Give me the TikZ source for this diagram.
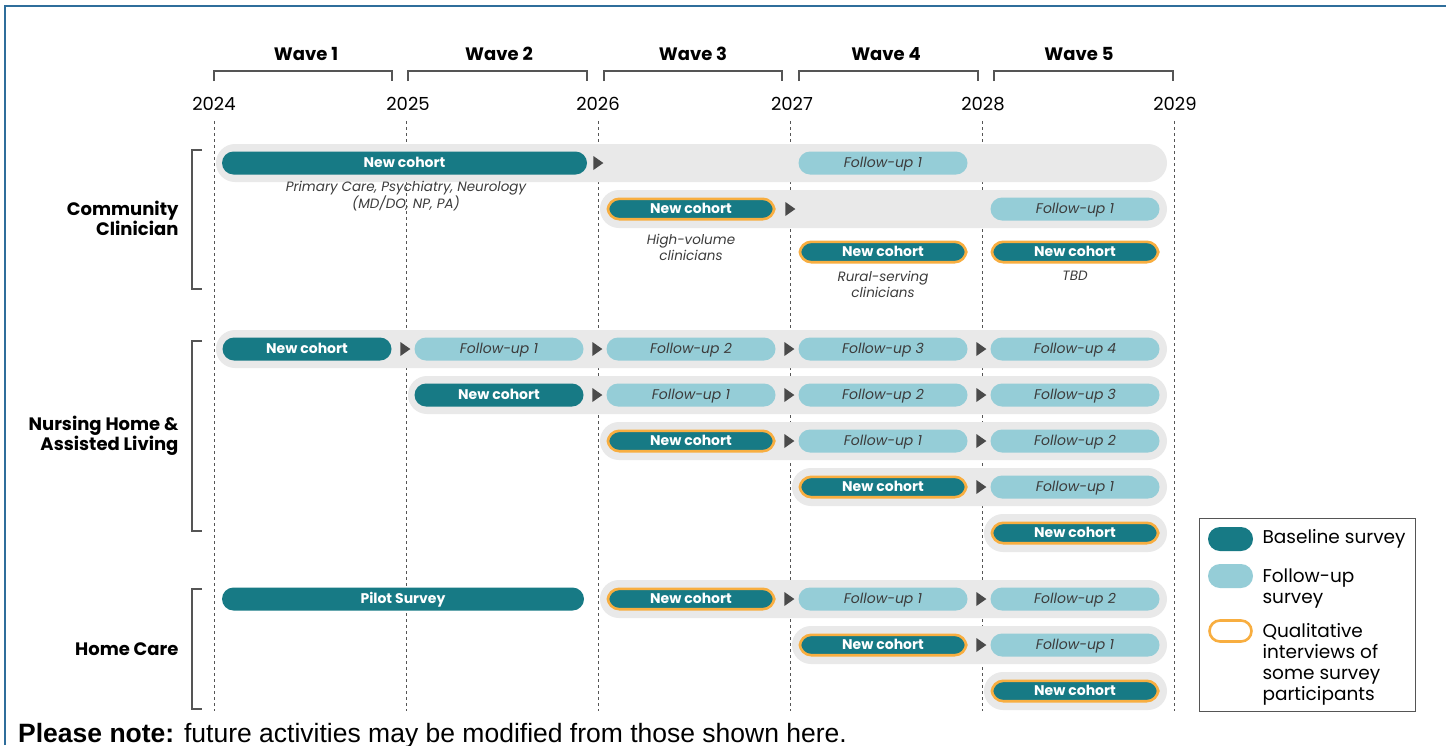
\documentclass[tikz,border=0pt]{standalone}
\usepackage{fontspec}
\setmainfont{Poppins}
\newfontfamily\notefont{Liberation Sans}
\usetikzlibrary{shapes.geometric}
\definecolor{teal}{HTML}{177A85}
\definecolor{lightteal}{HTML}{95CDD7}
\definecolor{qorange}{HTML}{F8AE40}
\definecolor{bandgrey}{HTML}{E9E9E9}
\definecolor{arrgrey}{HTML}{4A4A4A}
\definecolor{frameblue}{HTML}{2F6E9B}
\definecolor{futext}{HTML}{3C3C3C}
\definecolor{linegrey}{HTML}{555555}
\tikzset{
  pillbase/.style={rectangle, rounded corners=11.5pt, minimum height=23pt, inner sep=0pt, text height=10.5pt, text depth=1.5pt},
  basepill/.style={pillbase, fill=teal, text=white, font=\fontsize{14}{16}\selectfont\bfseries},
  qualpill/.style={pillbase, fill=teal, draw=qorange, line width=2.6pt, minimum height=20.4pt, text=white, font=\fontsize{14}{16}\selectfont\bfseries},
  fupill/.style={pillbase, fill=lightteal, text=futext, font=\fontsize{14}{16}\selectfont\itshape},
  band/.style={fill=bandgrey, rounded corners=19pt},
  tri/.style={isosceles triangle, isosceles triangle apex angle=70, fill=arrgrey, minimum height=10pt, inner sep=0pt},
  yearlbl/.style={font=\fontsize{18}{20}\selectfont},
  wavelbl/.style={font=\fontsize{18}{20}\selectfont\bfseries},
  grouplbl/.style={font=\fontsize{18}{20}\selectfont\bfseries, align=right, anchor=east},
  notelbl/.style={font=\fontsize{13.5}{16}\selectfont\itshape, text=futext, align=center},
  grid/.style={dashed, dash pattern=on 3pt off 3pt, linegrey, line width=0.8pt},
  bracket/.style={linegrey, line width=1.2pt},
  legtext/.style={font=\fontsize{18.5}{21}\selectfont, anchor=west, align=left}
}
\newcommand\yrpill[5]{\node[#2, minimum width=169pt] (#1) at ({307+192*#3},#4) {#5};}
\newcommand\yrqual[3]{\node[qualpill, minimum width=166.4pt] (#1) at ({307+192*#2},#3) {New cohort};}
\newcommand\trimark[3]{\node[tri] (#1) at ({404+192*#2},#3) {};}
\newcommand\bandrow[2]{\fill[band] ({#1},{#2-19}) rectangle (1167,{#2+19});}
\begin{document}
\begin{tikzpicture}[x=1pt,y=-1pt]
\useasboundingbox (0,0) rectangle (1446,745);
\fill[white] (0,0) rectangle (1446,745);
% frame
\draw[frameblue, line width=2.2pt] (5,745) -- (5,6) -- (1446,6);

% wave labels and brackets
\foreach \cx/\a/\b/\n in {306/214/392/1, 499/408/587/2, 693/604/782/3, 886/799/978/4, 1079/994/1173/5}{
  \node[wavelbl] (wave\n) at (\cx,54) {Wave \n};
  \draw[bracket] (\a,81) -- (\a,71) -- (\b,71) -- (\b,81);
}
% years and grid lines
\foreach \lx/\gx/\yr in {214/214/2024, 408/406/2025, 598/598/2026, 792/790/2027, 983/982/2028, 1175/1174/2029}{
  \node[yearlbl] (yr\yr) at (\lx,104) {\yr};
  \draw[grid] (\gx,121) -- (\gx,711);
}

% group brackets
\draw[bracket] (202,150) -- (192,150) -- (192,289) -- (202,289);
\draw[bracket] (202,341) -- (192,341) -- (192,531) -- (202,531);
\draw[bracket] (202,589) -- (192,589) -- (192,709) -- (202,709);
\node[grouplbl] (gcc) at (182,218) {Community\\Clinician};
\node[grouplbl] (gnh) at (182,436) {Nursing Home \&\\Assisted Living};
\node[grouplbl] (ghc) at (182,649) {Home Care};

% ---- Community Clinician
\bandrow{216}{163}
\node[basepill, minimum width=365pt] (cc1nc) at (404.5,163) {New cohort};
\node[tri] (cc1a) at (597,163) {};
\yrpill{cc1f1}{fupill}{3}{163}{Follow-up 1}
\node[notelbl] (cc1note) at (406,196) {Primary Care, Psychiatry, Neurology\\(MD/DO, NP, PA)};

\bandrow{600}{209}
\yrqual{cc2nc}{2}{209}
\node[tri] (cc2a) at (789,209) {};
\yrpill{cc2f1}{fupill}{4}{209}{Follow-up 1}
\node[notelbl] (cc2note) at (691,247) {High-volume\\clinicians};

\yrqual{cc3nc}{3}{252}
\yrqual{cc4nc}{4}{252}
\node[notelbl] (cc3note) at (883,284) {Rural-serving\\clinicians};
\node[notelbl] (cc4note) at (1075,276) {TBD};

% ---- Nursing Home & Assisted Living
\bandrow{216}{349}
\yrpill{nh1nc}{basepill}{0}{349}{New cohort}
\trimark{nh1a0}{0}{349}
\yrpill{nh1f1}{fupill}{1}{349}{Follow-up 1}
\trimark{nh1a1}{1}{349}
\yrpill{nh1f2}{fupill}{2}{349}{Follow-up 2}
\trimark{nh1a2}{2}{349}
\yrpill{nh1f3}{fupill}{3}{349}{Follow-up 3}
\trimark{nh1a3}{3}{349}
\yrpill{nh1f4}{fupill}{4}{349}{Follow-up 4}

\bandrow{408}{395}
\yrpill{nh2nc}{basepill}{1}{395}{New cohort}
\trimark{nh2a1}{1}{395}
\yrpill{nh2f1}{fupill}{2}{395}{Follow-up 1}
\trimark{nh2a2}{2}{395}
\yrpill{nh2f2}{fupill}{3}{395}{Follow-up 2}
\trimark{nh2a3}{3}{395}
\yrpill{nh2f3}{fupill}{4}{395}{Follow-up 3}

\bandrow{600}{441}
\yrqual{nh3nc}{2}{441}
\trimark{nh3a2}{2}{441}
\yrpill{nh3f1}{fupill}{3}{441}{Follow-up 1}
\trimark{nh3a3}{3}{441}
\yrpill{nh3f2}{fupill}{4}{441}{Follow-up 2}

\bandrow{792}{487}
\yrqual{nh4nc}{3}{487}
\trimark{nh4a3}{3}{487}
\yrpill{nh4f1}{fupill}{4}{487}{Follow-up 1}

\bandrow{984}{533}
\yrqual{nh5nc}{4}{533}

% ---- Home Care
\node[basepill, minimum width=362pt] (hc0) at (403,599) {Pilot Survey};
\bandrow{600}{599}
\yrqual{hc1nc}{2}{599}
\trimark{hc1a2}{2}{599}
\yrpill{hc1f1}{fupill}{3}{599}{Follow-up 1}
\trimark{hc1a3}{3}{599}
\yrpill{hc1f2}{fupill}{4}{599}{Follow-up 2}

\bandrow{792}{645}
\yrqual{hc2nc}{3}{645}
\trimark{hc2a3}{3}{645}
\yrpill{hc2f1}{fupill}{4}{645}{Follow-up 1}

\bandrow{984}{691}
\yrqual{hc3nc}{4}{691}

% ---- Legend
\draw[linegrey, line width=1pt] (1199,518) rectangle (1415,711);
\node[pillbase, fill=teal, minimum width=45pt, minimum height=24pt, rounded corners=12pt] (lg1) at (1230.5,539) {};
\node[pillbase, fill=lightteal, minimum width=45pt, minimum height=24pt, rounded corners=12pt] (lg2) at (1230.5,576) {};
\node[pillbase, fill=white, draw=qorange, line width=2.6pt, minimum width=42pt, minimum height=21pt, rounded corners=10.5pt] (lg3) at (1230.5,631) {};
\node[legtext] (lt1) at (1259,539) {Baseline survey};
\node[legtext, anchor=north west] (lt2) at (1259,565) {Follow-up\\survey};
\node[legtext, anchor=north west] (lt3) at (1259,620) {Qualitative\\interviews of\\some survey\\participants};

% ---- bottom note
\node[anchor=base west, inner sep=0pt, font=\notefont\fontsize{26.5}{28}\selectfont] (note) at (18,742) {\textbf{Please note:} future activities may be modified from those shown here.};
\end{tikzpicture}
\end{document}
